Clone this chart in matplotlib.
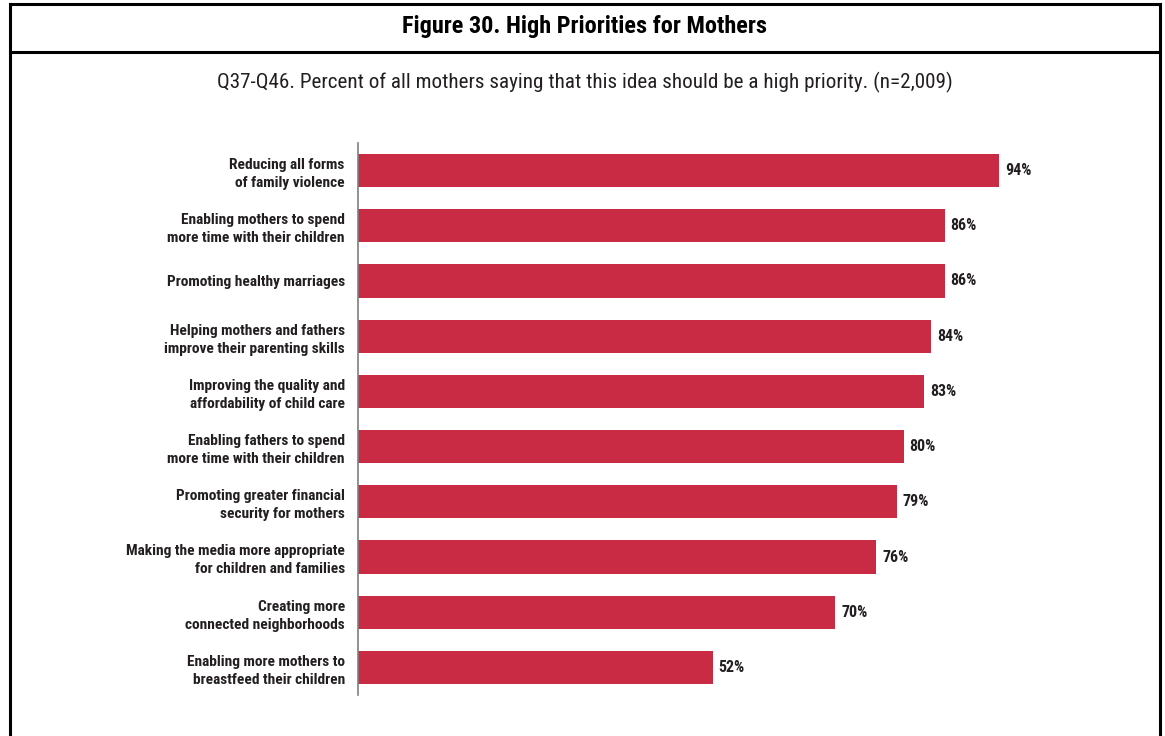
import matplotlib
matplotlib.use("Agg")
import matplotlib.pyplot as plt
from matplotlib import font_manager
from matplotlib.lines import Line2D

categories = [
    "Reducing all forms\nof family violence",
    "Enabling mothers to spend\nmore time with their children",
    "Promoting healthy marriages",
    "Helping mothers and fathers\nimprove their parenting skills",
    "Improving the quality and\naffordability of child care",
    "Enabling fathers to spend\nmore time with their children",
    "Promoting greater financial\nsecurity for mothers",
    "Making the media more appropriate\nfor children and families",
    "Creating more\nconnected neighborhoods",
    "Enabling more mothers to\nbreastfeed their children",
]
values = [94, 86, 86, 84, 83, 80, 79, 76, 70, 52]
title = "Figure 30. High Priorities for Mothers"
subtitle = "Q37-Q46. Percent of all mothers saying that this idea should be a high priority. (n=2,009)"

available = {f.name for f in font_manager.fontManager.ttflist}
fam = "DejaVu Sans"
for cand in ["Roboto Condensed", "Liberation Sans Narrow", "Open Sans Condensed", "DejaVu Sans"]:
    if cand in available:
        fam = cand
        break
plt.rcParams['font.family'] = [fam, 'DejaVu Sans']

W, H = 1165, 736
fig = plt.figure(figsize=(W / 100, H / 100), dpi=100)
fig.patch.set_facecolor("white")

ax = fig.add_axes([358 / W, 1 - 695 / H, 682 / W, 552 / H])
bar_color = "#C92A44"
text_color = "#231F20"
y = list(range(len(categories)))
ax.barh(y, values, height=0.6, color=bar_color)
ax.set_xlim(0, 100)
ax.set_ylim(len(categories) - 0.5, -0.5)
ax.set_yticks(y)
ax.set_yticklabels(categories, fontsize=11.1, fontweight="bold", color=text_color,
                   linespacing=1.36)
ax.tick_params(axis="y", length=0, pad=9.5)
ax.set_xticks([])
for s in ["top", "right", "bottom"]:
    ax.spines[s].set_visible(False)
ax.spines["left"].set_color("#7F7F7F")
ax.spines["left"].set_linewidth(1.2)

for yi, v in zip(y, values):
    ax.annotate(f"{v}%", xy=(v, yi), xytext=(4.3, 0), textcoords="offset points",
                va="center", ha="left", fontsize=11.5, fontweight="bold", color=text_color)

# frame
lw = 2.2
def fl(x0, y0, x1, y1):
    fig.add_artist(Line2D([x0 / W, x1 / W], [1 - y0 / H, 1 - y1 / H],
                          color="black", lw=lw, transform=fig.transFigure))
fl(10, 4, 1160, 4)
fl(10, 52, 1160, 52)
fl(10, 4, 10, 736)
fl(1160, 4, 1160, 736)

fig.text(585 / W, 1 - 27 / H, title, ha="center", va="center",
         fontsize=17.5, fontweight="bold", color="black")
fig.text(585 / W, 1 - 82 / H, subtitle, ha="center", va="center",
         fontsize=15.2, color=text_color)

fig.savefig("out.png", dpi=100, facecolor="white")
